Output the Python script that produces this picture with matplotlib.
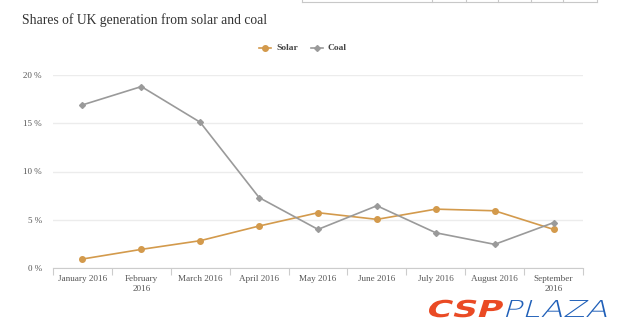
import numpy as np
import matplotlib.pyplot as plt
from matplotlib.textpath import TextPath
from matplotlib.patches import PathPatch
from matplotlib.font_manager import FontProperties
from matplotlib.transforms import Affine2D, IdentityTransform
from matplotlib.lines import Line2D

months = ['January 2016', 'February\n2016', 'March 2016', 'April 2016', 'May 2016',
          'June 2016', 'July 2016', 'August 2016', 'September\n2016']
solar = [0.93, 1.93, 2.83, 4.35, 5.73, 5.04, 6.1, 5.93, 4.0]
coal = [16.9, 18.8, 15.1, 7.3, 4.0, 6.45, 3.65, 2.45, 4.7]
yticks = [0, 5, 10, 15, 20]

solar_col = '#d39a4c'
coal_col = '#9a9a9a'
txt_col = '#555555'
serif = 'Liberation Serif'

W, H = 620, 336
fig = plt.figure(figsize=(W / 100, H / 100), dpi=100)
ax = fig.add_axes([53 / W, 68 / H, (583 - 53) / W, (268 - 75) / H])

x = np.arange(len(months))
ax.plot(x, solar, color=solar_col, lw=1.2, marker='o', ms=4, zorder=3)
ax.plot(x, coal, color=coal_col, lw=1.2, marker='D', ms=3, zorder=3)

ax.set_xlim(-0.5, len(months) - 0.5)
ax.set_ylim(0, 20)
ax.set_yticks(yticks)
ax.set_yticklabels(['%d %%' % v for v in yticks], fontfamily=serif, fontsize=6.5, color=txt_col)
ax.yaxis.grid(True, color='#ececec', lw=1)
ax.set_axisbelow(True)
ax.tick_params(axis='y', length=0, pad=8)

# category boundaries get the tick marks, labels sit between them
ax.set_xticks(np.arange(-0.5, len(months), 1))
ax.set_xticklabels([])
ax.tick_params(axis='x', which='major', length=5, color='#cccccc', width=0.8)
ax.set_xticks(x, minor=True)
ax.set_xticklabels(months, minor=True, fontfamily=serif, fontsize=6.6, color=txt_col,
                   linespacing=1.3)
ax.tick_params(axis='x', which='minor', length=0, pad=5)

for s in ['top', 'right', 'left']:
    ax.spines[s].set_visible(False)
ax.spines['bottom'].set_color('#cccccc')
ax.spines['bottom'].set_linewidth(0.8)

fig.text(22 / W, 1 - 20 / H, 'Shares of UK generation from solar and coal',
         fontfamily=serif, fontsize=9.8, color='#333333', va='center', ha='left')

# legend
ly = 1 - 48 / H
for mx, col, mk, ms, lab in [(265, solar_col, 'o', 4, 'Solar'), (317, coal_col, 'D', 3, 'Coal')]:
    fig.add_artist(Line2D([(mx - 6) / W, (mx + 6) / W], [ly, ly], color=col, lw=1.2,
                          transform=fig.transFigure))
    fig.add_artist(Line2D([mx / W], [ly], color=col, marker=mk, ms=ms,
                          transform=fig.transFigure))
    fig.text((mx + 11) / W, ly, lab, fontfamily=serif, fontsize=6.8, fontweight='bold',
             color='#444444', va='center', ha='left')

# thin table edge at the top
tl = '#c8c8c8'
fig.add_artist(Line2D([302 / W, 597 / W], [1 - 2 / H, 1 - 2 / H], color=tl, lw=0.8,
                      transform=fig.transFigure))
for vx in [302, 432, 466, 498, 531, 563, 597]:
    fig.add_artist(Line2D([vx / W, vx / W], [1 - 2 / H, 1.0], color=tl, lw=0.8,
                          transform=fig.transFigure))

# logo
def logo_text(s, x0, y0, sx, col, weight, skew=0):
    fp = FontProperties(family='DejaVu Sans', weight=weight, style='normal')
    tp = TextPath((0, 0), s, size=23.3, prop=fp)
    tr = Affine2D().skew_deg(skew, 0).scale(sx, 1.0).translate(x0, y0)
    fig.add_artist(PathPatch(tr.transform_path(tp), facecolor=col, edgecolor='none',
                             transform=IdentityTransform()))

logo_text('CSP', 425, H - 317, 1.47, '#ea4a24', 'heavy', skew=12)
logo_text('PLAZA', 502, H - 317, 1.4, '#1f5fb8', 'light', skew=12)

fig.savefig('out.png', dpi=100, facecolor='white')
